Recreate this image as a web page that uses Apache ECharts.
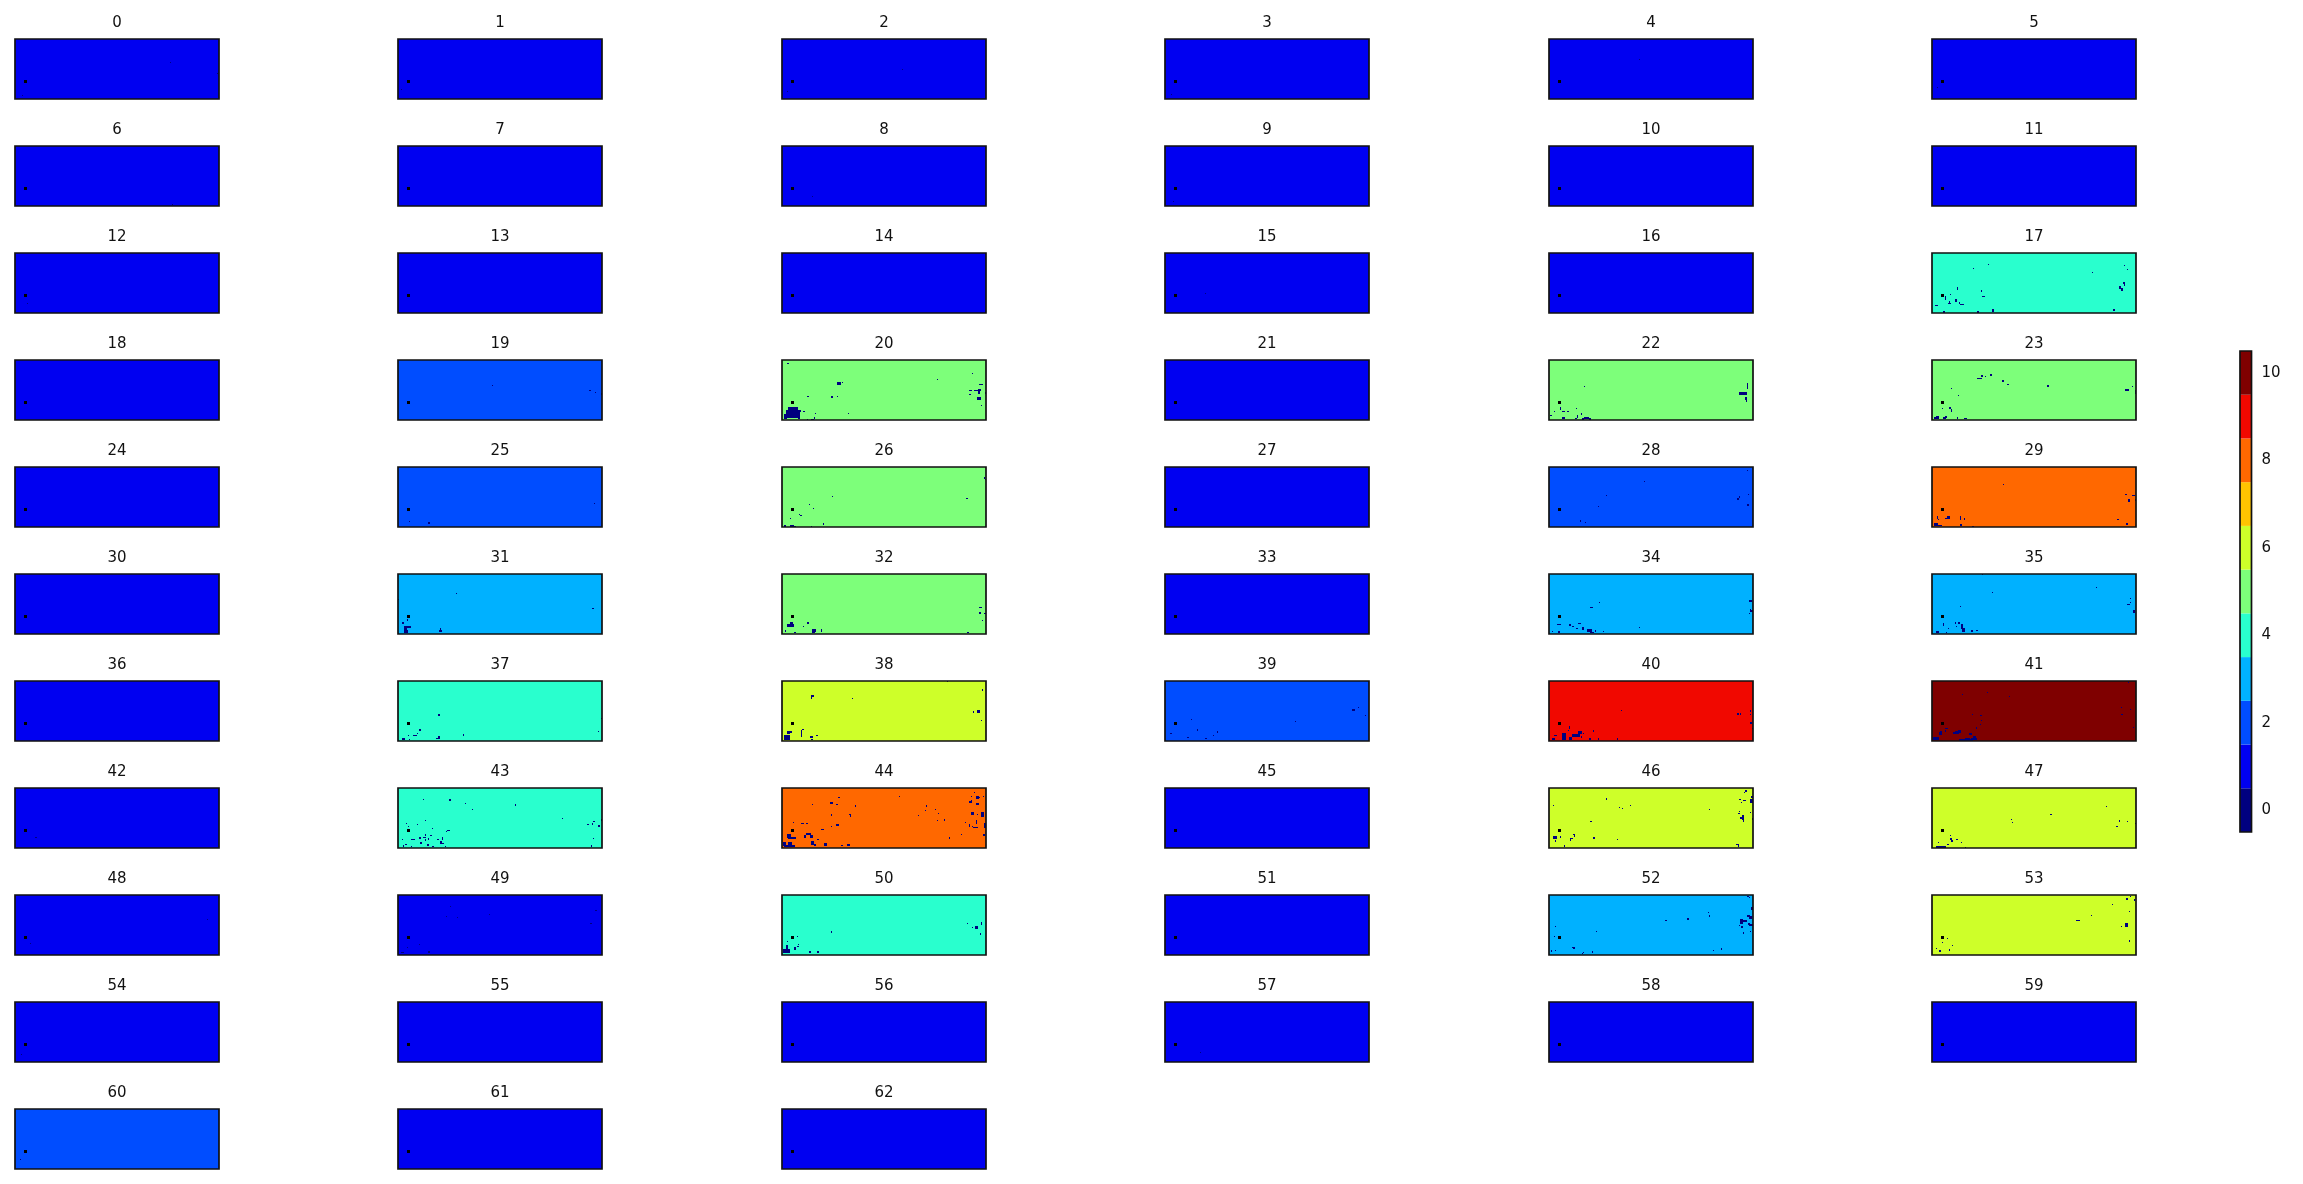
<!DOCTYPE html>
<html><head><meta charset="utf-8"><title>Panels</title>
<style>html,body{margin:0;padding:0;background:#fff}#c{width:2303px;height:1184px}</style>
<script src="https://cdn.jsdelivr.net/npm/echarts@6/dist/echarts.min.js"></script></head>
<body><div id="c"></div>
<script>
// Colour level of each numbered panel's background
const panelValues=[1,1,1,1,1,1,1,1,1,1,1,1,1,1,1,1,1,4,1,2,5,1,5,5,1,2,5,1,2,8,1,3,5,1,3,3,1,4,6,2,9,10,1,4,8,1,6,6,1,1,4,1,3,6,1,1,1,1,1,1,2,1,1];
// Levels of the colour scale and its ticks
const levels=[0,1,2,3,4,5,6,7,8,9,10];
const levelColors=['#00007f','#0000f1','#004dff','#00b1ff','#29ffce','#7dff7a','#ceff29','#ffc400','#ff6800','#f10800','#7f0000'];
const colorbarTicks=[0,2,4,6,8,10];
// Image extent, in image cells
const imageWidth=204, imageHeight=60;
// The fixed black point present in every panel
const markerCell=[9,41,3,3];
// Cells at level 0 in each panel: [col,row,cols,rows]
const darkCells={
0:[[7,56,1,1],[155,23,1,1],[202,34,1,1]],
1:[[3,50,1,1]],
2:[[5,52,1,1],[120,30,1,1]],
3:[[6,55,1,1]],
4:[[90,20,1,1]],
5:[[5,48,1,1]],
6:[[157,58,1,1]],
8:[[30,50,1,1]],
9:[[8,55,1,1]],
12:[[12,50,1,1]],
15:[[40,40,1,1]],
17:[[56,11,1,1],[41,15,1,1],[160,19,1,1],[192,12,1,1],[195,16,1,1],[191,29,2,2],[192,31,1,2],[187,33,2,3],[189,35,2,3],[25,34,1,3],[49,37,1,2],[50,43,3,1],[18,41,1,1],[13,43,1,4],[23,46,2,3],[17,48,1,3],[16,50,3,1],[27,49,1,2],[28,51,4,1],[3,52,3,1],[11,58,2,2],[45,58,2,2],[60,56,2,3],[181,56,2,2]],
19:[[94,25,1,1],[191,30,2,1],[197,32,1,1],[203,33,1,2]],
20:[[5,3,2,1],[55,22,4,3],[60,22,1,1],[155,19,1,1],[190,13,1,1],[197,24,4,1],[187,30,3,1],[187,34,2,1],[192,30,4,1],[196,29,3,2],[196,31,2,3],[203,32,1,2],[195,37,4,3],[199,45,1,1],[25,36,2,1],[49,36,2,2],[55,36,1,1],[6,47,10,3],[4,50,14,4],[5,54,13,4],[2,54,3,5],[16,57,2,2],[18,50,1,2],[21,51,2,1],[33,53,1,1],[66,53,1,1],[32,57,1,2],[29,59,3,1],[25,59,1,1]],
22:[[35,26,1,1],[198,23,1,6],[190,32,8,3],[196,37,2,3],[197,40,1,2],[11,47,1,3],[13,51,3,1],[18,51,2,1],[5,51,1,1],[27,48,1,1],[32,53,1,2],[28,55,1,3],[1,55,2,1],[13,57,3,2],[26,58,2,1],[33,58,2,2],[35,57,5,2],[40,58,2,2]],
23:[[49,15,2,2],[45,18,5,1],[53,16,1,1],[58,14,2,2],[70,20,2,2],[75,24,2,1],[115,25,2,2],[200,26,1,1],[193,29,4,2],[203,30,1,4],[19,28,1,1],[26,35,1,1],[10,48,1,1],[17,47,2,2],[19,49,1,3],[4,56,3,3],[2,57,2,2],[11,57,3,2],[13,56,2,2],[25,57,1,2],[32,58,3,1]],
25:[[30,55,2,2],[196,36,1,1],[11,54,1,1]],
26:[[202,10,1,2],[203,12,1,1],[50,29,1,1],[27,37,1,1],[31,41,1,1],[17,47,1,1],[18,48,2,1],[8,51,1,1],[41,56,1,2],[29,59,1,1],[184,31,2,1],[2,58,2,2],[8,58,4,2],[12,59,2,1]],
28:[[95,14,1,1],[57,28,1,1],[49,39,1,1],[190,29,1,2],[188,31,2,2],[199,27,1,1],[198,37,2,2],[198,3,1,1],[31,53,1,2],[36,55,1,1]],
29:[[71,17,1,1],[193,27,2,1],[200,28,3,1],[196,32,2,3],[203,32,1,2],[185,52,2,1],[194,56,2,2],[5,49,1,3],[6,52,1,1],[13,51,2,1],[15,49,3,3],[28,49,1,4],[32,51,1,2],[28,57,2,2],[2,56,4,3],[5,58,5,1],[40,59,2,1]],
31:[[58,19,1,1],[0,25,1,1],[194,34,2,1],[4,48,2,2],[9,45,1,2],[6,52,7,2],[6,52,3,4],[6,56,4,3],[41,56,3,2],[42,54,1,3]],
32:[[197,33,3,1],[197,38,2,2],[202,39,2,1],[200,46,1,1],[8,48,3,5],[5,50,7,3],[3,56,1,2],[12,58,2,1],[21,52,1,1],[25,48,2,2],[30,55,3,4],[33,55,1,3],[39,55,1,3],[185,58,2,1]],
34:[[50,28,1,1],[41,33,3,1],[200,26,3,2],[201,35,1,2],[201,36,3,2],[200,39,1,1],[8,50,4,1],[20,50,2,2],[23,52,2,1],[29,49,3,1],[27,54,2,1],[33,53,2,3],[38,55,5,3],[41,58,4,1],[46,56,1,2],[54,57,1,1],[90,53,1,1],[3,57,1,1],[9,57,2,2]],
35:[[50,0,1,1],[60,18,1,1],[164,13,1,1],[28,32,1,1],[198,24,1,1],[195,30,3,1],[198,28,1,1],[201,36,2,3],[11,49,1,3],[16,54,1,1],[23,48,1,2],[26,48,2,2],[24,52,1,1],[29,50,2,5],[30,54,3,4],[39,56,2,2],[44,56,2,1],[4,57,3,2],[14,58,1,1]],
37:[[40,33,2,2],[203,37,1,1],[21,48,2,2],[19,52,1,1],[15,54,4,1],[10,54,1,1],[65,53,1,2],[40,55,2,3],[38,57,4,1],[4,57,3,2],[11,58,1,1],[200,50,1,1]],
38:[[29,14,3,2],[29,16,1,2],[70,17,1,1],[200,8,1,2],[195,29,3,3],[191,30,1,2],[199,39,1,1],[165,0,1,1],[2,54,6,5],[5,50,3,3],[8,50,2,2],[19,49,1,7],[20,48,2,1],[28,55,3,2],[34,54,2,1],[29,58,2,1]],
39:[[187,28,3,2],[193,26,1,1],[130,40,1,1],[26,38,1,1],[32,48,1,2],[52,50,1,2],[48,54,1,1],[5,52,2,1],[200,34,1,1],[22,56,2,1],[40,57,2,1]],
40:[[72,29,1,1],[188,32,2,2],[191,32,1,2],[201,29,1,2],[201,33,1,1],[201,41,2,2],[203,47,1,1],[20,45,1,3],[19,49,1,1],[5,54,3,1],[13,52,4,7],[23,53,8,3],[29,50,4,3],[34,52,1,1],[44,49,1,2],[32,55,1,2],[40,57,2,2],[49,57,1,2],[68,57,1,2],[3,57,3,2],[20,56,3,3]],
41:[[196,1,1,1],[30,13,1,1],[55,11,1,1],[77,15,1,1],[40,33,1,1],[48,34,2,1],[49,39,1,1],[48,43,1,1],[44,46,1,2],[189,26,1,1],[189,33,2,1],[198,28,1,1],[201,46,1,1],[13,47,3,1],[13,49,1,2],[8,50,2,1],[7,51,3,3],[23,50,4,1],[26,49,3,3],[21,51,6,2],[37,52,3,2],[1,56,6,3],[27,58,14,2],[33,57,5,1],[41,55,3,4],[39,57,6,2]],
42:[[20,49,2,1]],
43:[[25,11,1,1],[51,11,2,2],[67,15,1,1],[74,21,1,1],[117,16,1,2],[164,30,1,1],[27,32,1,1],[8,35,1,1],[10,38,1,1],[19,36,1,1],[34,40,1,1],[49,42,3,1],[48,43,1,1],[189,36,2,1],[194,35,1,2],[195,33,2,1],[200,37,2,2],[203,31,1,2],[195,50,1,1],[27,46,1,2],[32,47,2,1],[21,49,2,2],[25,49,3,1],[27,51,1,2],[30,50,1,2],[13,51,4,1],[4,51,1,1],[39,51,2,1],[44,49,1,3],[22,54,2,2],[42,53,2,3],[43,55,3,1],[29,56,2,2],[34,58,2,1],[47,58,1,1],[7,56,2,1],[5,57,1,2],[13,58,1,1],[193,57,1,2]],
44:[[56,9,2,1],[117,8,1,1],[192,4,1,1],[30,16,1,1],[48,14,3,2],[54,16,2,1],[73,17,1,2],[144,17,1,2],[143,22,1,1],[153,21,1,1],[156,25,1,1],[136,27,1,1],[49,26,1,2],[67,26,2,1],[68,27,1,2],[54,36,3,2],[49,38,1,1],[39,41,3,1],[11,34,1,1],[19,35,3,1],[24,35,2,1],[162,31,1,2],[155,32,1,1],[183,34,1,1],[167,49,1,2],[179,46,1,1],[189,8,1,1],[194,8,3,3],[196,9,2,1],[201,8,1,1],[187,13,3,2],[189,12,1,1],[194,15,3,2],[189,24,3,3],[199,24,3,5],[195,26,1,1],[194,32,1,4],[187,36,1,3],[191,39,5,1],[190,38,1,1],[202,35,2,5],[201,46,2,2],[5,46,4,4],[6,49,8,2],[1,54,3,4],[6,54,4,4],[2,57,11,2],[24,45,5,2],[22,47,2,3],[28,47,3,3],[35,51,2,1],[29,53,3,4],[32,56,2,2],[42,55,3,3],[59,57,2,1],[65,56,3,2]],
46:[[57,10,1,2],[4,17,1,1],[70,19,1,1],[73,20,1,1],[81,17,1,1],[160,21,1,1],[41,33,2,1],[44,49,2,2],[68,51,1,1],[196,2,2,2],[195,4,1,1],[190,11,2,1],[194,12,3,1],[192,14,1,1],[201,11,3,4],[202,8,2,2],[201,24,1,1],[190,23,1,1],[189,25,2,1],[193,27,2,5],[191,29,2,2],[194,32,1,2],[203,30,1,2],[4,48,4,3],[6,52,1,2],[11,48,1,2],[24,46,2,1],[25,46,1,3],[21,50,3,1],[21,51,1,2],[15,57,1,2],[187,56,3,1],[189,57,1,2]],
47:[[174,18,1,1],[118,26,2,1],[79,31,1,1],[80,34,1,1],[187,32,1,2],[195,33,1,1],[184,38,2,1],[203,35,1,1],[18,47,1,1],[18,50,2,2],[19,52,2,2],[24,51,2,1],[6,54,1,1],[15,56,2,1],[29,54,1,1],[4,58,10,2],[33,59,1,1]],
48:[[192,24,1,1],[15,48,1,1]],
49:[[52,11,1,1],[48,21,1,1],[59,22,1,1],[91,19,1,1],[197,15,2,1],[192,28,2,1],[9,52,1,1],[21,49,1,1],[30,56,2,2],[3,57,3,1]],
50:[[49,36,1,2],[15,41,1,1],[5,46,1,1],[16,49,1,1],[15,51,2,1],[12,52,2,3],[4,50,2,4],[1,54,7,4],[27,56,2,2],[35,56,2,2],[185,28,1,1],[190,32,1,1],[193,31,3,3],[199,27,1,3],[198,38,1,2]],
52:[[198,1,2,1],[200,2,1,1],[202,12,2,3],[159,17,1,1],[160,20,1,2],[138,23,2,2],[116,25,2,1],[198,20,3,2],[200,21,3,3],[191,24,3,5],[193,25,5,2],[199,28,2,2],[200,29,4,2],[192,31,2,2],[190,30,1,1],[201,36,1,1],[194,37,1,2],[6,31,1,1],[5,41,1,1],[47,36,1,1],[23,52,3,1],[24,53,2,1],[2,55,1,2],[6,55,1,1],[43,56,1,2],[34,57,1,1],[33,58,1,1],[164,55,1,1],[172,53,1,2]],
53:[[144,25,4,1],[159,20,1,1],[193,28,3,4],[189,31,1,1],[197,16,1,1],[194,3,2,2],[198,1,1,1],[197,45,1,2],[15,43,1,1],[10,47,1,1],[20,50,1,1],[4,53,1,1],[7,55,2,2],[17,54,1,2],[180,9,1,1],[202,4,1,2]],
54:[[6,52,1,1]],
57:[[35,50,1,1]],
60:[[5,50,1,1]]
};

// Layout of the figure (pixels)
const colLefts=[15,398,782,1165,1549,1932], firstTop=39, rowStep=107;
const FRAME=-2, MARKER=-1;
function fillOf(level){ return level===MARKER ? '#000' : levelColors[level]; }
function renderCell(params,api){
  const x=api.value(0),y=api.value(1),w=api.value(2),h=api.value(3),level=api.value(4);
  const a=api.coord([x,y]), b=api.coord([x+w,y+h]);
  const shape={x:Math.min(a[0],b[0]),y:Math.min(a[1],b[1]),width:Math.abs(b[0]-a[0]),height:Math.abs(b[1]-a[1])};
  if(level===FRAME) return {type:'rect',shape,style:{fill:'none',stroke:'#111',lineWidth:1.7}};
  return {type:'rect',shape,style:{fill:fillOf(level),stroke:null}};
}
const grid=[],xAxis=[],yAxis=[],series=[],title=[];
panelValues.forEach((bg,i)=>{
  const left=colLefts[i%6], top=firstTop+rowStep*Math.floor(i/6);
  grid.push({left,top,width:imageWidth,height:imageHeight,show:false});
  xAxis.push({type:'value',gridIndex:i,min:0,max:imageWidth,show:false});
  yAxis.push({type:'value',gridIndex:i,min:0,max:imageHeight,inverse:true,show:false});
  const data=[[0,0,imageWidth,imageHeight,bg]];
  (darkCells[i]||[]).forEach(c=>data.push([c[0],Math.min(c[1],imageHeight-c[3]),c[2],c[3],0]));
  data.push([markerCell[0],markerCell[1],markerCell[2],markerCell[3],MARKER]);
  data.push([0,0,imageWidth,imageHeight,FRAME]);
  series.push({type:'custom',xAxisIndex:i,yAxisIndex:i,silent:true,animation:false,renderItem:renderCell,data,
    encode:{x:0,y:1}});
  title.push({text:String(i),left:left+imageWidth/2,top:top-23,textAlign:'center',padding:0,
    textStyle:{fontFamily:'DejaVu Sans',fontSize:15,fontWeight:'normal',color:'#111'}});
});
// Colour bar
const cb=panelValues.length;
grid.push({left:2240,top:351,width:11.5,height:481,show:false});
xAxis.push({type:'value',gridIndex:cb,min:0,max:1,show:false});
yAxis.push({type:'value',gridIndex:cb,position:'right',min:-0.5,max:10.5,
  axisLine:{show:false},splitLine:{show:false},
  axisTick:{show:true,length:7,lineStyle:{color:'#111',width:1.6},customValues:colorbarTicks},
  axisLabel:{show:true,margin:10,customValues:colorbarTicks,fontFamily:'DejaVu Sans',fontSize:15,color:'#111'}});
const cbData=levels.map(v=>[0,v-0.5,1,1,v]);
cbData.push([0,-0.5,1,11,FRAME]);
series.push({type:'custom',xAxisIndex:cb,yAxisIndex:cb,silent:true,animation:false,renderItem:renderCell,data:cbData,encode:{x:0,y:1}});

const chart=echarts.init(document.getElementById('c'),null,{renderer:'canvas',width:2303,height:1184});
chart.setOption({backgroundColor:'#fff',animation:false,title,grid,xAxis,yAxis,series});
</script></body></html>
